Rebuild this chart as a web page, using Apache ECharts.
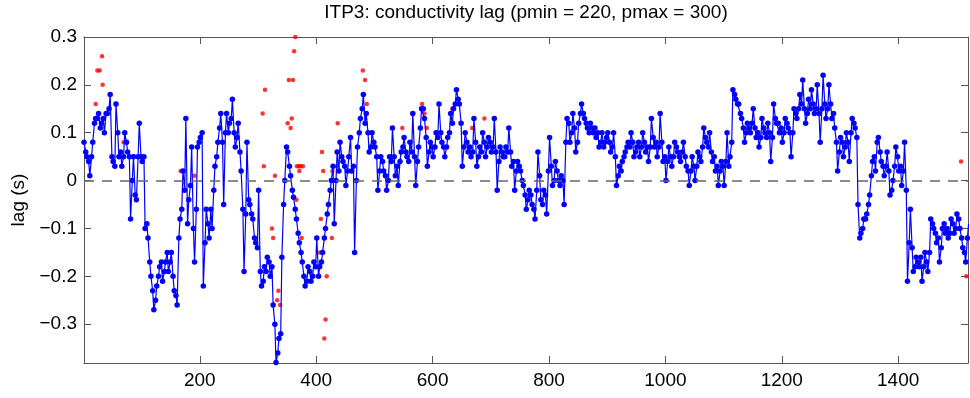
<!DOCTYPE html>
<html>
<head>
<meta charset="utf-8">
<script src="https://cdn.jsdelivr.net/npm/echarts@6/dist/echarts.min.js"></script>
<style>
html,body{margin:0;padding:0;background:#fff;}
#chart{width:970px;height:398px;}
</style>
</head>
<body>
<div id="chart"></div>
<script>
// Profile numbering of the two interleaved sampled lag series
const profileStartA = 1;
const profileStartB = 4;
const profileStep = 5;
// Conductivity lag (s), blue series (profiles 1, 6, 11, ...)
const lagValues = [
 0.08, 0.05, 0.01, 0.08, 0.13, 0.14, 0.12, 0.10, 0.14, 0.18,
 0.04, 0.16, 0.05, 0.03, 0.10, 0.06, -0.08, 0.05, -0.04, 0.12,
 0.04, -0.10, -0.12, -0.20, -0.27, -0.22, -0.18, -0.21, -0.17, -0.19,
 -0.15, -0.23, -0.26, -0.08, 0.02, 0.13, -0.04, 0.07, -0.17, 0.07,
 0.09, -0.22, -0.06, -0.12, -0.10, 0.03, 0.08, 0.14, -0.05, 0.14,
 0.12, 0.17,
 0.07, 0.12, 0.02, -0.19, 0.08, -0.05, -0.08, -0.13, -0.02, -0.22,
 -0.18, -0.16, -0.20, -0.26, -0.38, -0.33, -0.16, 0.00, 0.06, 0.01,
 -0.035, -0.08, -0.13, -0.17, -0.22, -0.18, -0.21, -0.17, -0.12, -0.18,
 -0.15, -0.10, -0.05, 0.00, -0.09, 0.06, 0.08, 0.04, -0.01, 0.05,
 0.02, -0.15, 0.07, 0.13, 0.18, 0.14, 0.06, 0.10, 0.07, -0.02,
 0.05,
 0.02, -0.02, 0.05, 0.11, 0.01, -0.01, 0.06, 0.09, 0.05, 0.08,
 0.14, -0.01, 0.07, 0.15, 0.13, 0.03, 0.08, 0.05, 0.10, 0.16,
 0.08, 0.05, 0.09, 0.14, 0.15, 0.19, 0.16, 0.03, 0.10, 0.06,
 0.05, 0.13, 0.03, 0.07, 0.10, 0.05, 0.09, 0.06, 0.13, -0.02,
 0.07, 0.05, 0.07, 0.11, 0.03, -0.02, 0.04, 0.02, -0.01, -0.06,
 -0.02,
 -0.05, -0.08, 0.06, -0.04, -0.02, -0.07, 0.09, -0.01, 0.04, 0.00,
 0.01, -0.05, 0.13, 0.08, 0.14, 0.06, 0.12, 0.16, 0.13, 0.11,
 0.12, 0.10, 0.09, 0.07, 0.10, 0.08, 0.10, 0.06, 0.10, -0.01,
 0.03, 0.04, 0.06, 0.08, 0.10, 0.05, 0.07, 0.05, 0.10, 0.06,
 0.04, 0.13, 0.07, 0.05, 0.14, 0.04, 0.00, 0.07, 0.03, 0.08,
 0.06,
 0.04, 0.08, 0.03, -0.01, 0.05, 0.00, 0.06, 0.04, 0.11, 0.08,
 0.10, 0.04, 0.02, -0.01, 0.04, -0.01, 0.10, 0.05, 0.19, 0.17,
 0.16, 0.13, 0.08, 0.12, 0.10, 0.15, 0.09, 0.07, 0.13, 0.10,
 0.12, 0.04, 0.16, 0.12, 0.10, 0.08, 0.13, 0.11, 0.05, 0.15,
 0.13, 0.18, 0.21, 0.12, 0.17, 0.19, 0.14, 0.20, 0.08, 0.22,
 0.13,
 0.20, 0.13, 0.11, 0.02, 0.09, 0.05, 0.10, 0.04, 0.13, 0.11,
 -0.05, -0.11, -0.08, -0.07, -0.03, 0.04, 0.02, 0.09, 0.04, 0.01,
 0.06, -0.03, 0.00, 0.07, 0.02, -0.01, 0.08, -0.21, -0.06, -0.19,
 -0.16, -0.18, -0.21, -0.15, -0.19, -0.08, -0.10, -0.13, -0.17, -0.10,
 -0.11, -0.12, -0.08, -0.11, -0.07, -0.10, -0.14, -0.17, -0.09
];
// Conductivity lag (s), blue series (profiles 4, 9, 14, ...)
const lagValuesB = [
 0.06, 0.04, 0.05, 0.12, 0.13, 0.11, 0.13, 0.14, 0.15, 0.05,
 0.03, 0.10, 0.06, 0.05, 0.08, 0.05, 0.00, -0.03, 0.05, 0.05,
 0.05, -0.09, -0.17, -0.23, -0.25, -0.20, -0.17, -0.19, -0.15, -0.17,
 -0.20, -0.24, -0.12, -0.06, -0.02, -0.09, -0.01, -0.10, -0.06, 0.08,
 0.10, -0.13, -0.09, -0.06, -0.02, 0.05, 0.11, 0.08, 0.10, 0.10,
 0.13, 0.10,
 0.09, 0.06, -0.06, -0.07, -0.04, -0.07, -0.12, -0.14, -0.19, -0.21,
 -0.19, -0.17, -0.18, -0.30, -0.36, -0.32, -0.05, 0.07, 0.03, -0.02,
 -0.06, -0.11, -0.15, -0.20, -0.21, -0.19, -0.20, -0.18, -0.20, -0.17,
 -0.12, -0.07, -0.02, 0.03, 0.00, 0.02, 0.05, 0.03, 0.02, 0.09,
 0.03, 0.00, 0.10, 0.15, 0.12, 0.10, 0.07, 0.08, 0.05, 0.02,
 0.04,
 0.01, 0.00, 0.04, 0.05, 0.03, 0.04, 0.07, 0.06, 0.04, 0.06,
 0.05, 0.04, 0.11, 0.15, 0.09, 0.06, 0.07, 0.07, 0.09, 0.10,
 0.07, 0.07, 0.10, 0.12, 0.16, 0.17, 0.12, 0.07, 0.08, 0.07,
 0.06, 0.08, 0.05, 0.06, 0.08, 0.07, 0.08, 0.07, 0.06, 0.04,
 0.06, 0.05, 0.06, 0.06, 0.04, 0.02, 0.03, 0.00, -0.03, -0.04,
 -0.03,
 -0.06, -0.02, 0.01, -0.05, -0.03, 0.02, 0.03, 0.00, 0.02, -0.01,
 0.00, 0.08, 0.12, 0.10, 0.11, 0.08, 0.14, 0.14, 0.12, 0.10,
 0.11, 0.11, 0.10, 0.08, 0.07, 0.09, 0.08, 0.07, 0.05, 0.01,
 0.02, 0.05, 0.07, 0.07, 0.08, 0.06, 0.08, 0.07, 0.08, 0.07,
 0.07, 0.09, 0.08, 0.07, 0.08, 0.05, 0.04, 0.05, 0.05, 0.07,
 0.05,
 0.06, 0.05, 0.02, 0.02, 0.03, 0.03, 0.05, 0.07, 0.09, 0.07,
 0.06, 0.05, 0.03, 0.02, 0.03, 0.04, 0.03, 0.08, 0.18, 0.16,
 0.14, 0.11, 0.10, 0.11, 0.12, 0.11, 0.10, 0.09, 0.11, 0.09,
 0.10, 0.09, 0.13, 0.12, 0.11, 0.10, 0.12, 0.10, 0.10, 0.14,
 0.15, 0.16, 0.15, 0.14, 0.15, 0.16, 0.15, 0.14, 0.15, 0.16,
 0.15,
 0.16, 0.14, 0.08, 0.06, 0.08, 0.07, 0.08, 0.10, 0.12, 0.09,
 -0.12, -0.10, -0.08, -0.05, 0.01, 0.05, 0.08, 0.06, 0.03, 0.03,
 0.02, -0.02, 0.03, 0.05, 0.03, 0.02, -0.02, -0.13, -0.14, -0.18,
 -0.17, -0.16, -0.18, -0.17, -0.15, -0.09, -0.11, -0.12, -0.14, -0.09,
 -0.10, -0.11, -0.09, -0.10, -0.08, -0.12, -0.15, -0.12
];
// Rejected lag estimates (red dots): profile and lag
const outlierProfiles = [21, 24, 28, 32, 33, 69, 88, 167, 191, 305, 308, 310, 312, 324, 326, 329, 333, 335, 338,
 351, 353, 356, 358, 360, 362, 364, 366, 367, 370, 371, 373, 375, 377, 406, 408, 410, 412, 414, 416, 418,
 427, 428, 436, 437, 480, 484, 487, 548, 582, 586, 590, 634, 668, 689, 1311, 1508, 1517];
const outlierLags = [0.16, 0.23, 0.23, 0.26, 0.20, 0.08, 0.05, 0.02, 0.01, -0.19, 0.14, 0.03, 0.19, -0.10, -0.12, 0.01, -0.25, -0.23, -0.26,
 0.12, 0.21, 0.11, 0.13, 0.21, 0.27, 0.30, -0.04, 0.03, 0.03, 0.02, 0.03, -0.12, 0.03, -0.15, -0.08, 0.06, 0.02, -0.33, -0.29, -0.20,
 -0.12, 0.02, 0.03, 0.12, 0.23, 0.21, 0.16, 0.11, 0.16, 0.14, 0.11, 0.15, 0.11, 0.13, 0.08, 0.04, -0.20];
// Axis ticks
const xTicks = [200, 400, 600, 800, 1000, 1200, 1400];
const yTicks = [-0.3, -0.2, -0.1, 0, 0.1, 0.2, 0.3];
const titleText = 'ITP3: conductivity lag (pmin = 220, pmax = 300)';
const yName = 'lag (s)';

const lineData = [];
lagValues.forEach((v, i) => {
  lineData.push([profileStartA + i * profileStep, v]);
  if (i < lagValuesB.length) lineData.push([profileStartB + i * profileStep, lagValuesB[i]]);
});
const redData = outlierProfiles.map((p, i) => [p, outlierLags[i]]);

const FONT = 'Liberation Sans, Arial, Helvetica, sans-serif';
const AX = '#555';
const fmtY = v => v === 0 ? '0' : v.toFixed(1).replace('-', '\u2212');

function xAx(pos, showLabel) {
  return {
    type: 'value', position: pos, min: 1, max: 1520,
    axisLine: {show: true, onZero: false, lineStyle: {color: AX, width: 1}},
    axisTick: {show: true, inside: true, length: 7, customValues: xTicks, lineStyle: {color: AX}},
    axisLabel: {show: showLabel, customValues: xTicks, formatter: v => String(v), color: '#000', fontFamily: FONT, fontSize: 19, margin: 8},
    splitLine: {show: false}
  };
}
function yAx(pos, showLabel) {
  return {
    type: 'value', position: pos, min: -0.381, max: 0.3,
    axisLine: {show: true, onZero: false, lineStyle: {color: AX, width: 1}},
    axisTick: {show: true, inside: true, length: 7, customValues: yTicks, lineStyle: {color: AX}},
    axisLabel: {show: showLabel, customValues: yTicks, formatter: fmtY, color: '#000', fontFamily: FONT, fontSize: 19, margin: 7},
    splitLine: {show: false},
    name: showLabel ? yName : '', nameLocation: 'middle', nameGap: 51,
    nameTextStyle: {color: '#000', fontFamily: FONT, fontSize: 19}
  };
}

const chart = echarts.init(document.getElementById('chart'), null, {renderer: 'canvas'});
chart.setOption({
  animation: false,
  backgroundColor: '#fff',
  title: {
    text: titleText, left: 526, top: 3, textAlign: 'center', padding: 0,
    textStyle: {color: '#000', fontFamily: FONT, fontSize: 19, fontWeight: 'normal'}
  },
  grid: {left: 84, right: 2, top: 37, bottom: 35, containLabel: false},
  xAxis: [xAx('bottom', true), xAx('top', false)],
  yAxis: [yAx('left', true), yAx('right', false)],
  series: [
    {
      type: 'scatter', data: redData, symbol: 'circle', symbolSize: 4.5,
      itemStyle: {color: '#ff0000'}, z: 2, silent: true,
      markLine: {
        silent: true, symbol: ['none', 'none'], label: {show: false},
        lineStyle: {color: '#666', width: 1.5, type: [10, 8]},
        data: [{yAxis: 0}]
      }
    },
    {
      type: 'line', data: lineData, symbol: 'circle', symbolSize: 5.5, showAllSymbol: true,
      lineStyle: {color: '#0000ff', width: 1.2}, itemStyle: {color: '#0000ff'},
      z: 3, silent: true
    }
  ]
});
</script>
</body>
</html>
